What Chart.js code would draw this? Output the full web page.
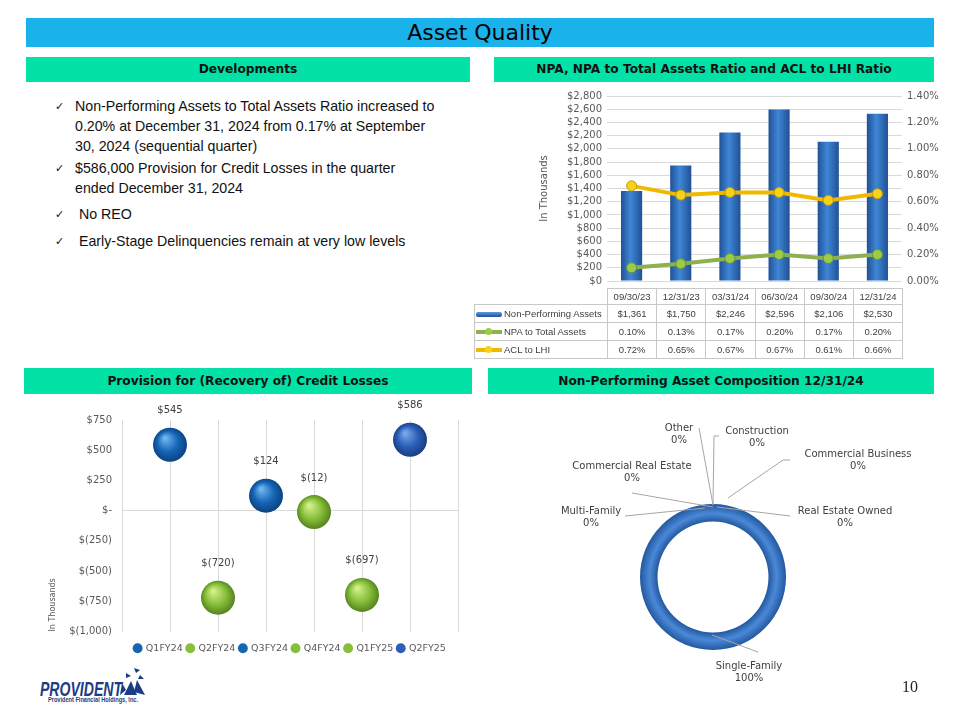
<!DOCTYPE html>
<html>
<head>
<meta charset="utf-8">
<script src="https://cdn.jsdelivr.net/npm/chart.js@4.4.1/dist/chart.umd.min.js"></script>
<style>
  body { margin: 0; width: 960px; height: 720px; background: #fff; position: relative; overflow: hidden; font-family: 'DejaVu Sans', sans-serif; }
  .abs { position: absolute; }
  .titlebar { left: 26px; top: 18px; width: 908px; height: 29px; background: #19b2ea; text-align: center; font-size: 22px; line-height: 30px; color: #000; }
  .hdr { position: absolute; background: #02e2a6; text-align: center; font-weight: bold; font-size: 12.2px; color: #111; }
  ul.dev { position: absolute; left: 52px; top: 96px; width: 420px; margin: 0; padding: 0; list-style: none; font-family: 'Liberation Sans', Arial, sans-serif; font-size: 14.2px; color: #111; }
  ul.dev li { position: relative; padding-left: 23px; line-height: 20px; white-space: nowrap; }
  ul.dev li:before { content: '\2713'; position: absolute; left: 3px; top: 0; font-size: 11px; }
  table.npa { position: absolute; left: 474px; top: 288px; border-collapse: collapse; table-layout: fixed; width: 428px; font-family: 'Liberation Sans', Arial, sans-serif; font-size: 9.5px; color: #404040; }
  table.npa td { border: 1px solid #c8c8c8; height: 17px; padding: 0; text-align: center; overflow: hidden; }
  table.npa td.first { text-align: left; padding-left: 1px; white-space: nowrap; }
  table.npa tr.head td { height: 15px; }
  table.npa tr.head td.first { border: none; }
  .key { display: inline-block; vertical-align: middle; margin-right: 2px; position: relative; width: 26px; height: 5px; }
</style>
</head>
<body>
<div class="abs titlebar">Asset Quality</div>

<div class="hdr" style="left:26px;top:57px;width:444px;height:25px;line-height:25px;">Developments</div>
<div class="hdr" style="left:494px;top:57px;width:440px;height:25px;line-height:25px;">NPA, NPA to Total Assets Ratio and ACL to LHI Ratio</div>
<div class="hdr" style="left:24px;top:368px;width:448px;height:26px;line-height:26px;">Provision for (Recovery of) Credit Losses</div>
<div class="hdr" style="left:488px;top:368px;width:446px;height:26px;line-height:26px;">Non-Performing Asset Composition 12/31/24</div>

<ul class="dev">
  <li style="margin-bottom:2px;">Non-Performing Assets to Total Assets Ratio increased to<br>0.20% at December 31, 2024 from 0.17% at September<br>30, 2024 (sequential quarter)</li>
  <li style="margin-bottom:6px;">$586,000 Provision for Credit Losses in the quarter<br>ended December 31, 2024</li>
  <li style="margin-bottom:7px;">&nbsp;No REO</li>
  <li>&nbsp;Early-Stage Delinquencies remain at very low levels</li>
</ul>

<div class="abs" style="left:534px;top:85px;width:411px;height:207px;"><canvas id="npaChart"></canvas></div>
<table class="npa" id="npaTable"></table>

<div class="abs" style="left:20px;top:400px;width:455px;height:263px;"><canvas id="provChart"></canvas></div>

<div class="abs" style="left:488px;top:400px;width:446px;height:300px;"><canvas id="compChart"></canvas></div>

<div class="abs" style="left:38px;top:666px;width:120px;height:40px;">
  <svg width="120" height="40">
    <text x="2" y="30" textLength="82" lengthAdjust="spacingAndGlyphs" font-family="Liberation Sans, Arial" font-weight="bold" font-style="italic" font-size="20" fill="#1c3c85">PROVIDENT</text>
    <polygon points="96,2 102,4 98,7" fill="#1c3c85"/>
    <polygon points="88,7 93,10 88,12" fill="#1c3c85"/>
    <polygon points="102,9 106,13 100,13" fill="#1c3c85"/>
    <polygon points="93,15 99,29 86,29" fill="#1c3c85"/>
    <polygon points="99,14 107,29 96,26" fill="#1c3c85"/>
    <polygon points="84,17 88,24 82,29" fill="#1c3c85"/>
    <text x="10" y="36" textLength="90" lengthAdjust="spacingAndGlyphs" font-family="Liberation Sans, Arial" font-weight="bold" font-size="6.3" fill="#1c3c85">Provident Financial Holdings, Inc.</text>
  </svg>
</div>
<div class="abs" style="left:902px;top:678px;font-family:'Liberation Serif',serif;font-size:16px;color:#222;">10</div>

<script>
// NPA chart data
var quarterEnds = ['09/30/23', '12/31/23', '03/31/24', '06/30/24', '09/30/24', '12/31/24'];
var npaAmounts = [1361, 1750, 2246, 2596, 2106, 2530];
var npaToAssets = [0.10, 0.13, 0.17, 0.20, 0.17, 0.20];
var aclToLhi = [0.72, 0.65, 0.67, 0.67, 0.61, 0.66];
var npaTicks = [0, 200, 400, 600, 800, 1000, 1200, 1400, 1600, 1800, 2000, 2200, 2400, 2600, 2800];
var ratioTicks = [0, 0.2, 0.4, 0.6, 0.8, 1.0, 1.2, 1.4];

// provision chart data
var provQuarters = ['Q1FY24', 'Q2FY24', 'Q3FY24', 'Q4FY24', 'Q1FY25', 'Q2FY25'];
var provValues = [545, -720, 124, -12, -697, 586];
var provTicks = [750, 500, 250, 0, -250, -500, -750, -1000];

// composition data
var compLabels = ['Single-Family', 'Multi-Family', 'Commercial Real Estate', 'Other', 'Construction', 'Commercial Business', 'Real Estate Owned'];
var compValues = [100, 0, 0, 0, 0, 0, 0];

var tickFont = { family: 'DejaVu Sans', size: 10 };
var grey = '#595959';

function money(v) {
  return '$' + Math.abs(v).toLocaleString('en-US');
}

// ---------- NPA chart ----------
function barFill(ctx) {
  var chart = ctx.chart;
  if (!chart.chartArea || ctx.type !== 'data') return '#2f6fbf';
  var x = chart.scales.x.getPixelForValue(ctx.dataIndex);
  var g = chart.ctx.createLinearGradient(x - 11, 0, x + 11, 0);
  g.addColorStop(0, '#1f4f94');
  g.addColorStop(0.45, '#3f86d6');
  g.addColorStop(1, '#1f4f94');
  return g;
}

new Chart(document.getElementById('npaChart').getContext('2d'), {
  type: 'bar',
  data: {
    labels: quarterEnds,
    datasets: [
      {
        type: 'line', label: 'ACL to LHI', data: aclToLhi, yAxisID: 'y1',
        borderColor: '#f1b800', borderWidth: 4, backgroundColor: '#f7d21a',
        pointRadius: 5, pointBorderColor: '#c99b00', pointBorderWidth: 1, tension: 0, order: 1
      },
      {
        type: 'line', label: 'NPA to Total Assets', data: npaToAssets, yAxisID: 'y1',
        borderColor: '#8eb04e', borderWidth: 4, backgroundColor: '#9ccb4a',
        pointRadius: 5, pointBorderColor: '#6e9432', pointBorderWidth: 1, tension: 0, order: 2
      },
      {
        label: 'Non-Performing Assets', data: npaAmounts, yAxisID: 'y',
        backgroundColor: barFill, barPercentage: 0.43, categoryPercentage: 1, order: 3
      }
    ]
  },
  options: {
    responsive: true,
    maintainAspectRatio: false,
    animation: false,
    layout: { padding: { top: 8, bottom: 5 } },
    plugins: { legend: { display: false }, tooltip: { enabled: false } },
    scales: {
      x: { display: false, offset: true },
      y: {
        position: 'left', min: 0, max: 2800,
        afterBuildTicks: function (s) { s.ticks = npaTicks.map(function (v) { return { value: v }; }); },
        afterFit: function (s) { s.width = 73; },
        ticks: { font: tickFont, color: grey, padding: 5, autoSkip: false, callback: function (v) { return money(v); } },
        grid: { color: '#d9d9d9', drawTicks: false },
        border: { display: false },
        title: { display: true, text: 'In Thousands', font: tickFont, color: grey, padding: { top: 4, bottom: 0 } }
      },
      y1: {
        position: 'right', min: 0, max: 1.4,
        afterBuildTicks: function (s) { s.ticks = ratioTicks.map(function (v) { return { value: v }; }); },
        afterFit: function (s) { s.width = 43; },
        ticks: { font: tickFont, color: grey, padding: 5, autoSkip: false, callback: function (v) { return v.toFixed(2) + '%'; } },
        grid: { display: false, drawTicks: false },
        border: { display: false }
      }
    }
  }
});

// data table under the NPA chart, built from the same arrays
(function () {
  var t = document.getElementById('npaTable');
  var html = '<colgroup><col style="width:133px">';
  quarterEnds.forEach(function () { html += '<col style="width:49.2px">'; });
  html += '</colgroup><tr class="head"><td class="first"></td>';
  quarterEnds.forEach(function (q) { html += '<td>' + q + '</td>'; });
  html += '</tr>';
  var rows = [
    { name: 'Non-Performing Assets', vals: npaAmounts.map(money), key: '<span class="key" style="height:5px;background:linear-gradient(#5c9be0,#1f4f94);border-radius:2px;"></span>' },
    { name: 'NPA to Total Assets', vals: npaToAssets.map(function (v) { return v.toFixed(2) + '%'; }), key: '<span class="key" style="height:4px;background:#8eb04e;"><span style="position:absolute;left:9px;top:-2px;width:7px;height:7px;border-radius:50%;background:#9ccb4a;"></span></span>' },
    { name: 'ACL to LHI', vals: aclToLhi.map(function (v) { return v.toFixed(2) + '%'; }), key: '<span class="key" style="height:4px;background:#f1b800;"><span style="position:absolute;left:9px;top:-2px;width:7px;height:7px;border-radius:50%;background:#f7d21a;"></span></span>' }
  ];
  rows.forEach(function (r) {
    html += '<tr><td class="first">' + r.key + r.name + '</td>';
    r.vals.forEach(function (v) { html += '<td>' + v + '</td>'; });
    html += '</tr>';
  });
  t.innerHTML = html;
})();

// ---------- provision bubble chart ----------
var blueBall = ['#6fb6f0', '#1565b5', '#0b3f7a'];
var greenBall = ['#d4f08a', '#86bf3a', '#4f7d1c'];
var lastBall = ['#7aa6ea', '#2b5fb8', '#17397a'];
var ballSets = [blueBall, greenBall, blueBall, greenBall, greenBall, lastBall];

function ballFill(cols) {
  return function (ctx) {
    var chart = ctx.chart;
    if (!chart.chartArea || ctx.type !== 'data') return cols[1];
    var x = chart.scales.x.getPixelForValue(ctx.raw.x);
    var y = chart.scales.y.getPixelForValue(ctx.raw.y);
    var g = chart.ctx.createRadialGradient(x - 5, y - 7, 1, x, y, 18);
    g.addColorStop(0, cols[0]);
    g.addColorStop(0.55, cols[1]);
    g.addColorStop(1, cols[2]);
    return g;
  };
}

var valueLabels = {
  id: 'valueLabels',
  afterDatasetsDraw: function (chart) {
    var c = chart.ctx;
    c.save();
    c.font = '10px DejaVu Sans';
    c.fillStyle = '#404040';
    c.textAlign = 'center';
    c.textBaseline = 'middle';
    chart.data.datasets.forEach(function (ds, i) {
      var pt = chart.getDatasetMeta(i).data[0];
      var v = ds.data[0].y;
      var txt = v < 0 ? '$(' + Math.abs(v).toLocaleString('en-US') + ')' : money(v);
      c.fillText(txt, pt.x, pt.y - 34);
    });
    c.restore();
  }
};

new Chart(document.getElementById('provChart').getContext('2d'), {
  type: 'bubble',
  data: {
    datasets: provQuarters.map(function (q, i) {
      return {
        label: q,
        data: [{ x: i + 1, y: provValues[i], r: 17 }],
        backgroundColor: ballFill(ballSets[i]),
        borderWidth: 0
      };
    })
  },
  options: {
    responsive: true,
    maintainAspectRatio: false,
    animation: false,
    layout: { padding: { top: 20, right: 9 } },
    plugins: {
      tooltip: { enabled: false },
      legend: {
        position: 'bottom',
        fullSize: false,
        labels: {
          font: { family: 'DejaVu Sans', size: 9.5 }, color: grey, boxWidth: 7, boxHeight: 7, usePointStyle: true, padding: 4,
          generateLabels: function (chart) {
            return chart.data.datasets.map(function (ds, i) {
              return { text: ds.label, fillStyle: ballSets[i][1], strokeStyle: ballSets[i][1], lineWidth: 0, pointStyle: 'circle', datasetIndex: i, hidden: false, fontColor: grey };
            });
          }
        }
      }
    },
    scales: {
      x: {
        min: 0, max: 7,
        afterFit: function (s) { s.height = 8; },
        ticks: { display: false, stepSize: 1 },
        grid: { color: '#d9d9d9', drawTicks: false },
        border: { display: false }
      },
      y: {
        min: -1000, max: 750,
        afterBuildTicks: function (s) { s.ticks = provTicks.map(function (v) { return { value: v }; }); },
        afterFit: function (s) { s.width = 102; },
        ticks: {
          font: tickFont, color: grey, padding: 10, autoSkip: false,
          callback: function (v) {
            if (v === 0) return '$-';
            return v < 0 ? '$(' + Math.abs(v).toLocaleString('en-US') + ')' : money(v);
          }
        },
        grid: { color: function (c) { return c.tick && c.tick.value === 0 ? '#d9d9d9' : 'rgba(0,0,0,0)'; }, drawTicks: false },
        border: { display: false },
        title: { display: true, text: 'In Thousands', align: 'start', font: { family: 'DejaVu Sans', size: 8 }, color: grey, padding: { top: 28, bottom: 0 } }
      }
    }
  },
  plugins: [valueLabels]
});

// ---------- composition doughnut ----------
// label placement relative to the ring centre
var compPlaces = [
  { tx: 36, ty: 89, line: [[-1, 58], [45, 75]] },
  { tx: -122, ty: -66, line: [[-88, -61], [-8, -69]] },
  { tx: -81, ty: -111, line: [[-81, -84], [0, -70]] },
  { tx: -34, ty: -149, line: [[-14, -149], [0, -72]] },
  { tx: 44, ty: -146, line: [[6, -141], [1, -141], [0, -72]] },
  { tx: 145, ty: -123, line: [[77, -117], [70, -117], [15, -79]] },
  { tx: 132, ty: -66, line: [[77, -61], [4, -70]] }
];

var ringLabels = {
  id: 'ringLabels',
  afterDatasetsDraw: function (chart) {
    var arc = chart.getDatasetMeta(0).data[0];
    var cx = arc.x, cy = arc.y;
    var total = compValues.reduce(function (a, b) { return a + b; }, 0);
    var c = chart.ctx;
    c.save();
    c.strokeStyle = '#a6a6a6';
    c.lineWidth = 1;
    compPlaces.forEach(function (p) {
      c.beginPath();
      p.line.forEach(function (pt, k) {
        if (k === 0) c.moveTo(cx + pt[0], cy + pt[1]); else c.lineTo(cx + pt[0], cy + pt[1]);
      });
      c.stroke();
    });
    c.font = '10px DejaVu Sans';
    c.fillStyle = '#404040';
    c.textAlign = 'center';
    c.textBaseline = 'middle';
    compPlaces.forEach(function (p, i) {
      c.fillText(compLabels[i], cx + p.tx, cy + p.ty);
      c.fillText(Math.round(compValues[i] / total * 100) + '%', cx + p.tx, cy + p.ty + 12);
    });
    c.restore();
  }
};

function ringFill(ctx) {
  var chart = ctx.chart;
  if (!chart.chartArea) return '#3a78c8';
  var a = chart.chartArea;
  var cx = (a.left + a.right) / 2, cy = (a.top + a.bottom) / 2;
  var outer = Math.min(a.right - a.left, a.bottom - a.top) / 2;
  var g = chart.ctx.createRadialGradient(cx, cy, outer * 0.76, cx, cy, outer);
  g.addColorStop(0, '#23589e');
  g.addColorStop(0.45, '#4a89d8');
  g.addColorStop(1, '#23589e');
  return g;
}

new Chart(document.getElementById('compChart').getContext('2d'), {
  type: 'doughnut',
  data: {
    labels: compLabels,
    datasets: [{ data: compValues, backgroundColor: ringFill, borderWidth: 0 }]
  },
  options: {
    responsive: true,
    maintainAspectRatio: false,
    animation: false,
    cutout: '76%',
    layout: { padding: { left: 152, right: 148, top: 104, bottom: 50 } },
    plugins: { legend: { display: false }, tooltip: { enabled: false } }
  },
  plugins: [ringLabels]
});
</script>
</body>
</html>
